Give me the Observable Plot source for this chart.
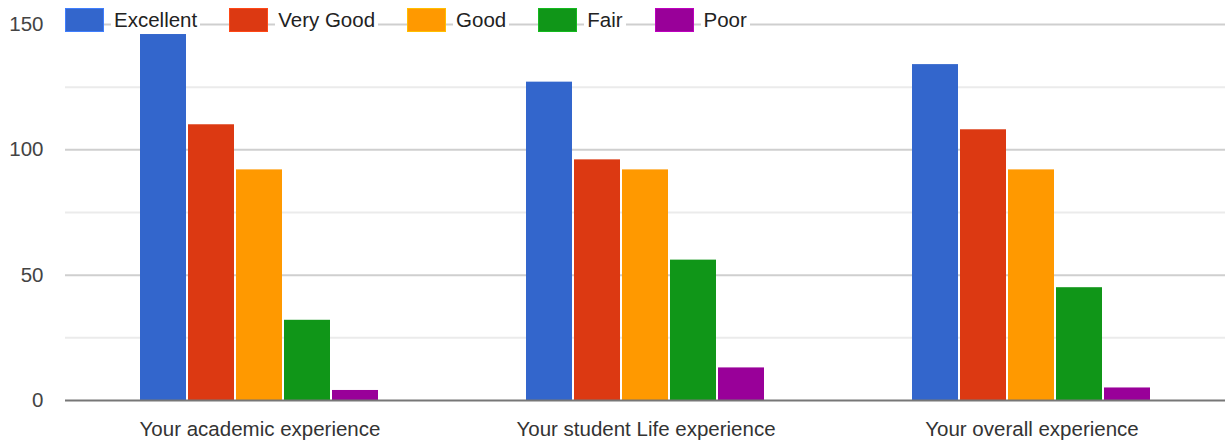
<!DOCTYPE html>
<html>
<head>
<meta charset="utf-8">
<script src="https://cdn.jsdelivr.net/npm/d3@7"></script>
<script src="https://cdn.jsdelivr.net/npm/@observablehq/plot@0.6"></script>
<style>
  body { margin: 0; background: #fff; }
  #wrap { position: relative; width: 1225px; height: 448px; font-family: "Liberation Sans", Arial, sans-serif; }
  #wrap > svg { position: absolute; left: 0; top: 0; }
  #legend { position: absolute; left: 65px; top: 8px; display: flex; align-items: center; height: 24px; }
  .item { display: flex; align-items: center; margin-right: 29px; }
  .sw { width: 37px; height: 22px; border: 1px solid; }
  .lab { background: #fff; margin-left: 7px; padding: 0 3px; font-size: 20.5px; line-height: 24px; color: #222; }
</style>
</head>
<body>
<div id="wrap"></div>
<script>
const questions = ["Your academic experience", "Your student Life experience", "Your overall experience"];
const ratings = ["Excellent", "Very Good", "Good", "Fair", "Poor"];
const colors = ["#3366cc", "#dc3912", "#ff9900", "#109618", "#990099"];
const excellent = [146, 127, 134];
const veryGood = [110, 96, 108];
const good = [92, 92, 92];
const fair = [32, 56, 45];
const poor = [4, 13, 5];
const yTicks = [0, 50, 100, 150];
const minorGrid = [25, 75, 125];
const majorGrid = [50, 100, 150];

const series = [excellent, veryGood, good, fair, poor];
const data = [];
questions.forEach((q, i) => ratings.forEach((r, j) => data.push({question: q, rating: r, count: series[j][i]})));

const font = '"Liberation Sans", Arial, sans-serif';
const common = {
  width: 1225,
  height: 448,
  marginLeft: 65,
  marginRight: 0,
  marginTop: 24,
  marginBottom: 48
};
const yScale = {domain: [0, 150], ticks: yTicks, tickSize: 0, tickPadding: 22, label: null};

// Layer 1: grid and y axis, spanning the full plot width
const back = Plot.plot({
  ...common,
  style: {fontFamily: font, fontSize: "20.5px", color: "#444", background: "#fff"},
  x: {domain: [0, 1], axis: null},
  y: yScale,
  marks: [
    Plot.ruleY(minorGrid, {stroke: "#ebebeb", strokeWidth: 2}),
    Plot.ruleY(majorGrid, {stroke: "#cfcfcf", strokeWidth: 2})
  ]
});

// Layer 2: grouped bars and category axis
const bars = Plot.plot({
  ...common,
  style: {fontFamily: font, fontSize: "20.5px", color: "#333", background: "transparent"},
  fx: {domain: questions, paddingInner: 0.382, paddingOuter: 0.191, axis: "bottom", tickSize: 0, tickPadding: 21, label: null},
  x: {domain: ratings, paddingInner: 0.04, paddingOuter: 0, axis: null},
  y: {...yScale, axis: null},
  color: {domain: ratings, range: colors},
  marks: [
    Plot.barY(data, {fx: "question", x: "rating", y: "count", fill: "rating"})
  ]
});

// Layer 3: baseline on top of the bars
const base = Plot.plot({
  ...common,
  style: {background: "transparent"},
  x: {domain: [0, 1], axis: null},
  y: {...yScale, axis: null},
  marks: [Plot.ruleY([0], {stroke: "#777", strokeWidth: 2})]
});

const wrap = document.getElementById("wrap");
wrap.appendChild(back);
wrap.appendChild(bars);
wrap.appendChild(base);

const legend = document.createElement("div");
legend.id = "legend";
ratings.forEach((r, i) => {
  const it = document.createElement("div");
  it.className = "item";
  const sw = document.createElement("div");
  sw.className = "sw";
  sw.style.background = colors[i];
  sw.style.borderColor = d3.color(colors[i]).brighter(0.6);
  const lab = document.createElement("span");
  lab.className = "lab";
  lab.textContent = r;
  it.appendChild(sw); it.appendChild(lab);
  legend.appendChild(it);
});
wrap.appendChild(legend);
</script>
</body>
</html>
